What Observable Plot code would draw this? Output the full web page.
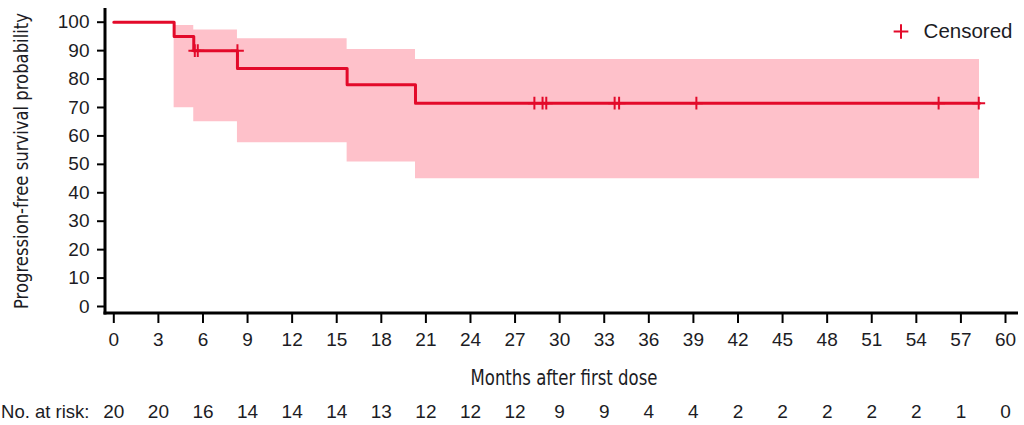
<!DOCTYPE html>
<html>
<head>
<meta charset="utf-8">
<script src="https://cdn.jsdelivr.net/npm/d3@7"></script>
<script src="https://cdn.jsdelivr.net/npm/@observablehq/plot@0.6"></script>
<style>
  html, body { margin: 0; padding: 0; background: #fff; }
  #chart { width: 1024px; height: 425px; overflow: hidden; }
</style>
</head>
<body>
<div id="chart"></div>
<script>
// ---- data ----
const stepTimes = [0, 4.06, 5.38, 8.32, 15.7, 20.3];
const survival = [100, 95, 90, 83.7, 78, 71.5];
const endTime = 58.25;
const bandUpper = [98.8, 97.3, 94.2, 90.4, 86.9];
const bandLower = [69.9, 65.0, 57.6, 50.8, 44.9];
const censorTimes = [5.45, 5.65, 8.32, 28.3, 28.85, 29.1, 33.7, 34.0, 39.2, 55.5, 58.2];
const xTicks = [0, 3, 6, 9, 12, 15, 18, 21, 24, 27, 30, 33, 36, 39, 42, 45, 48, 51, 54, 57, 60];
const yTicks = [0, 10, 20, 30, 40, 50, 60, 70, 80, 90, 100];
const atRisk = [20, 20, 16, 14, 14, 14, 13, 12, 12, 12, 9, 9, 4, 4, 2, 2, 2, 2, 2, 1, 0];
const yLabel = "Progression-free survival probability";
const xLabel = "Months after first dose";
const riskLabel = "No. at risk:";
const legendLabel = "Censored";

// ---- derived tables ----
const lineData = stepTimes.map((t, i) => ({t, s: survival[i]}));
lineData.push({t: endTime, s: survival[survival.length - 1]});
const bandData = stepTimes.slice(1).map((t, i) => ({t, lo: bandLower[i], hi: bandUpper[i]}));
bandData.push({t: endTime, lo: bandLower[bandLower.length - 1], hi: bandUpper[bandUpper.length - 1]});
// a censor tied with an event is drawn at the level just before the drop
const censorData = censorTimes.map(t => {
  let s = survival[0];
  stepTimes.forEach((st, i) => { if (st < t) s = survival[i]; });
  return {t, s};
});
const riskData = xTicks.map((t, i) => ({t, n: atRisk[i]}));

const RED = "#e30a2a";
const PINK = "#fec1ca";
const INK = "#1c1c24";
const FONT = "'Liberation Sans', Arial, Helvetica, sans-serif";
const NARROW = "'Liberation Sans Narrow', 'DejaVu Sans Condensed', 'Liberation Sans', sans-serif";

const mT = 8, mB = 112, mL = 105, mR = 6, W = 1024, H = 425;

const chart = Plot.plot({
  width: W, height: H,
  marginTop: mT, marginBottom: mB, marginLeft: mL, marginRight: mR,
  style: {fontFamily: FONT, fontSize: "19px", color: INK, background: "#fff", overflow: "visible"},
  x: {domain: [0, 60], range: [113.3, 1005], ticks: xTicks, tickSize: 10, tickPadding: 9, label: null, tickFormat: d => String(d)},
  y: {domain: [0, 100], range: [306, 21.7], ticks: yTicks, tickSize: 8, tickPadding: 8, label: null, tickFormat: d => String(d)},
  marks: [
    Plot.areaY(bandData, {x: "t", y1: "lo", y2: "hi", curve: "step-after", fill: PINK, fillOpacity: 1}),
    Plot.line(lineData, {x: "t", y: "s", curve: "step-after", stroke: RED, strokeWidth: 3}),
    Plot.dot(censorData, {x: "t", y: "s", symbol: "plus", r: 4.2, stroke: RED, strokeWidth: 2}),
    Plot.text(riskData, {x: "t", text: d => String(d.n), frameAnchor: "bottom", dy: 98.5, lineAnchor: "middle", fontSize: 19, fill: INK}),
    Plot.text([riskLabel], {text: d => d, frameAnchor: "bottom-left", dx: -16, dy: 98.5, textAnchor: "end", lineAnchor: "middle", fontSize: 18.5, fill: INK}),
    Plot.text([yLabel], {text: d => d, frameAnchor: "left", dx: -84, rotate: -90, textAnchor: "middle", lineAnchor: "middle", fontFamily: NARROW, fontSize: 19, fill: INK}),
    Plot.text([xLabel], {text: d => d, frameAnchor: "bottom", dx: 2, dy: 65, textAnchor: "middle", lineAnchor: "middle", fontFamily: NARROW, fontSize: 21, fill: INK}),
    Plot.dot([legendLabel], {frameAnchor: "top-right", dx: -117.5, dy: 23, symbol: "plus", r: 4.8, stroke: RED, strokeWidth: 2}),
    Plot.text([legendLabel], {text: d => d, frameAnchor: "top-right", dx: -6, dy: 23, textAnchor: "end", lineAnchor: "middle", fontSize: 20.5, fill: INK})
  ]
});

const svg = d3.select(chart);
// axis lines at the frame edges
svg.append("line").attr("x1", mL).attr("x2", mL).attr("y1", mT).attr("y2", H - mB + 1.5)
  .attr("stroke", "#000").attr("stroke-width", 3);
svg.append("line").attr("x1", mL - 1.5).attr("x2", W - mR).attr("y1", H - mB).attr("y2", H - mB)
  .attr("stroke", "#000").attr("stroke-width", 3);
// tick strokes
svg.selectAll("g[aria-label='x-axis'] line, g[aria-label='y-axis'] line, g[aria-label='x-axis tick'] path, g[aria-label='y-axis tick'] path")
  .attr("stroke", "#000").attr("stroke-width", 2);
// fit the condensed axis titles to their measured lengths
svg.selectAll("text").each(function() {
  if (this.textContent === xLabel) { d3.select(this).attr("textLength", 187).attr("lengthAdjust", "spacingAndGlyphs"); }
  if (this.textContent === yLabel) { d3.select(this).attr("textLength", 296).attr("lengthAdjust", "spacingAndGlyphs"); }
});
document.getElementById("chart").appendChild(chart);
</script>
</body>
</html>
